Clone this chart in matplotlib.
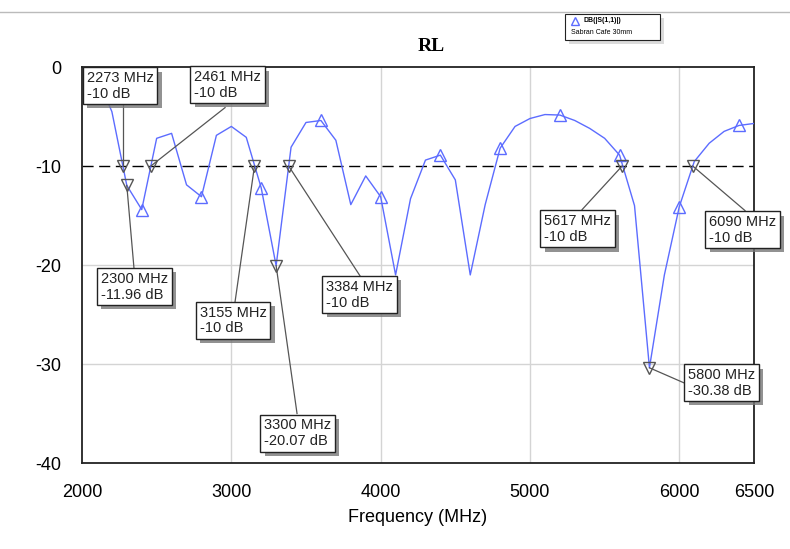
import matplotlib
matplotlib.use("Agg")
import matplotlib.pyplot as plt
import matplotlib.patheffects as pe
from matplotlib.lines import Line2D
from matplotlib.patches import Rectangle
import numpy as np

plt.rcParams['font.family'] = ['Liberation Sans', 'DejaVu Sans']
plt.rcParams['axes.unicode_minus'] = False

# RL sweep, 100 MHz steps
freq = np.arange(2100, 6600, 100)
rl_db = [-1.0, -4.5, -11.96, -14.4, -7.2, -6.7, -11.9, -13.1, -6.9, -6.0,
         -7.1, -12.2, -20.07, -8.1, -5.6, -5.4, -7.4, -13.9, -11.0, -13.1,
         -21.0, -13.3, -9.4, -8.9, -11.4, -21.0, -13.9, -8.2, -6.0, -5.2,
         -4.8, -4.85, -5.4, -6.2, -7.2, -8.9, -14.0, -30.38, -21.0, -14.1,
         -9.55, -7.7, -6.5, -5.9, -5.7]

# markers: (freq, dB)
mk_freq = [2273, 2461, 2300, 3155, 3300, 3384, 5617, 6090, 5800]
mk_db = [-10, -10, -11.96, -10, -20.07, -10, -10, -10, -30.38]
# label text position (upper left) and leader end point
lab_pos = [(2033, -0.4), (2750, -0.3), (2127, -20.7), (2790, -24.1), (3219, -35.5),
           (3634, -21.5), (5094, -14.85), (6199, -14.95), (6059, -30.4)]
lead_end = [(2273, -3.7), (2958, -4.1), (2348, -20.3), (3025, -23.7), (3440, -35.0),
            (3862, -21.1), (5349, -14.4), (6440, -14.5), (6031, -31.9)]

xticks = [2000, 3000, 4000, 5000, 6000, 6500]
yticks = [0, -10, -20, -30, -40]
blue = '#5c6cff'

fig = plt.figure(figsize=(7.9, 5.49), dpi=100)
ax = fig.add_axes([0.1038, 0.1566, 0.8506, 0.7213])

ax.set_xlim(2000, 6500)
ax.set_ylim(-40, 0)
ax.set_xticks(xticks)
ax.set_yticks(yticks)
ax.tick_params(length=0, labelsize=13, pad=15)
for x in [3000, 4000, 5000, 6000]:
    ax.axvline(x, color='#d4d4d4', lw=1, zorder=0)
for y in [-20, -30]:
    ax.axhline(y, color='#d4d4d4', lw=1, zorder=0)
for s in ax.spines.values():
    s.set_linewidth(1.3)
    s.set_color('#222222')

ax.axhline(-10, color='black', lw=1, dashes=(8, 4), zorder=2)

ax.plot(freq, rl_db, color=blue, lw=1, marker='^', markersize=9, mfc='none',
        mec=blue, markevery=slice(3, None, 4), zorder=3)

ax.plot(mk_freq, mk_db, linestyle='none', marker='v', markersize=8, mfc='none',
        mec='#555555', zorder=4)

shadow = [pe.withSimplePatchShadow(offset=(3, -3), shadow_rgbFace='#777777', alpha=0.8)]
for f, d, (tx, ty), (lx, ly) in zip(mk_freq, mk_db, lab_pos, lead_end):
    ax.plot([f, lx], [d, ly], color='#555555', lw=0.9, zorder=4)
    t = ax.text(tx, ty, '%d MHz\n%g dB' % (f, d), ha='left', va='top', fontsize=10.5,
                color='#222222', linespacing=1.15, zorder=6, clip_on=False,
                bbox=dict(boxstyle='square,pad=0.25', fc='white', ec='#222222', lw=1))
    t.get_bbox_patch().set_path_effects(shadow)

ax.set_xlabel('Frequency (MHz)', fontsize=13, labelpad=6)
fig.text(431 / 790, 1 - 47 / 549, 'RL', fontsize=14, fontweight='bold',
         family='Liberation Serif', ha='center', va='center')

# legend box at the top
fig.add_artist(Line2D([0, 1], [1 - 12 / 549] * 2, color='#bbbbbb', lw=1))
r = Rectangle((565 / 790, 1 - 40 / 549), 95 / 790, 26 / 549, transform=fig.transFigure,
              fc='white', ec='#222222', lw=0.8)
r.set_path_effects([pe.withSimplePatchShadow(offset=(3, -3), shadow_rgbFace='#888888')])
fig.add_artist(r)
fig.add_artist(Line2D([575 / 790], [1 - 21 / 549], marker='^', markersize=6, mfc='none',
                      mec=blue, linestyle='none'))
fig.text(583 / 790, 1 - 20 / 549, 'DB(|S(1,1)|)', fontsize=5, fontweight='bold', va='center')
fig.text(571 / 790, 1 - 32 / 549, 'Sabran Cafe 30mm', fontsize=5, va='center')

fig.savefig('out.png', dpi=100)
